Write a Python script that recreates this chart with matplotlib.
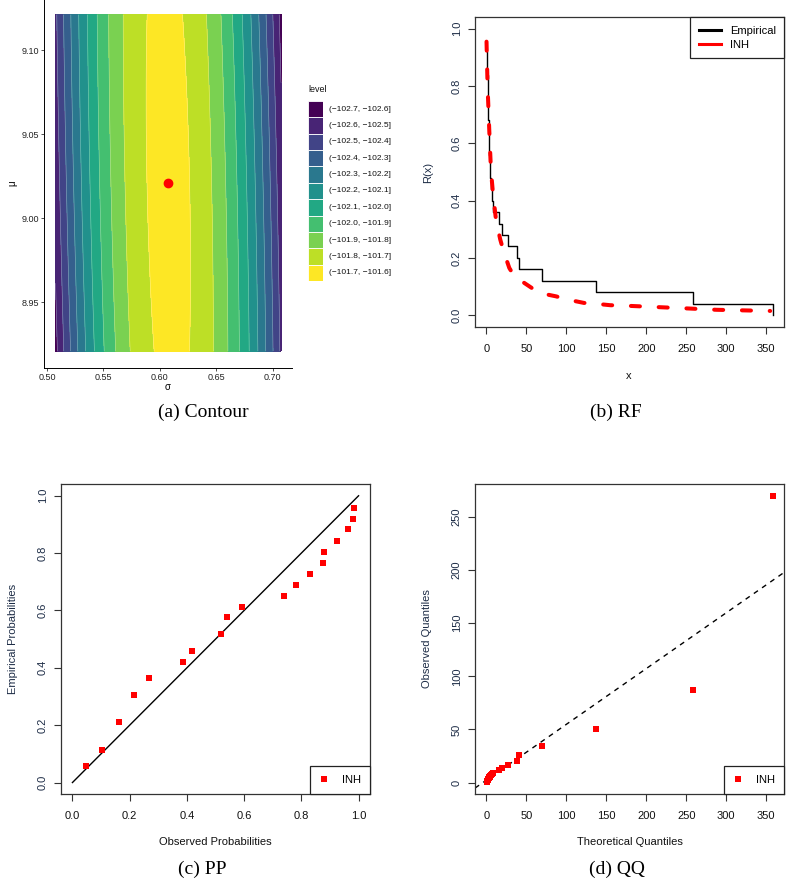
import numpy as np
import matplotlib
matplotlib.use("Agg")
import matplotlib.pyplot as plt
from matplotlib.patches import Rectangle
from matplotlib.lines import Line2D

plt.rcParams['font.family'] = ['Liberation Sans', 'DejaVu Sans']
plt.rcParams['lines.scale_dashes'] = False

# ---------------- data ----------------
# (a) contour: log-likelihood surface around the MLE
sigma_hat = 0.6075
mu_hat = 9.021
loglik_max = -101.668
sigma_curv = 0.1057
sigma_tilt = -0.031
mu_curv = 1.0
sigma_range = (0.5075, 0.7075)
mu_range = (8.921, 9.121)
level_breaks = [-102.7, -102.6, -102.5, -102.4, -102.3, -102.2, -102.1,
                -102.0, -101.9, -101.8, -101.7, -101.6]
sigma_ticks = [0.50, 0.55, 0.60, 0.65, 0.70]
mu_ticks = [8.95, 9.00, 9.05, 9.10]

# (b) reliability function
emp_x = [0.8, 1.0, 1.2, 1.5, 1.8, 2.1, 2.4, 2.7, 3.0, 3.3, 4.0, 4.8, 5.4, 7.5,
         8.7, 15.8, 20.0, 27.5, 38.7, 40.8, 69.0, 137.0, 258.0, 358.0]
emp_R = [0.92, 0.88, 0.84, 0.80, 0.76, 0.72, 0.68, 0.64, 0.60, 0.56, 0.52, 0.48,
         0.44, 0.40, 0.36, 0.32, 0.28, 0.24, 0.20, 0.16, 0.12, 0.08, 0.04, 0.00]
inh_x = [0.1, 1.4, 3.5, 5.6, 8.1, 11.9, 17.3, 21.5, 28.6, 34.9, 53.6, 66.0,
         87.0, 101.0, 122.0, 137.0, 155.0, 168.0, 201.0, 242.0, 288.0, 355.0]
inh_R = [0.955, 0.80, 0.648, 0.508, 0.427, 0.334, 0.264, 0.223, 0.165, 0.136,
         0.101, 0.078, 0.066, 0.055, 0.043, 0.040, 0.035, 0.034, 0.030, 0.025,
         0.019, 0.015]

# (c) PP plot
pp_observed = [0.049, 0.105, 0.164, 0.216, 0.269, 0.386, 0.419, 0.519, 0.541,
               0.593, 0.740, 0.781, 0.830, 0.876, 0.879, 0.924, 0.963, 0.979, 0.984]
pp_empirical = [0.056, 0.115, 0.212, 0.306, 0.365, 0.421, 0.459, 0.519, 0.576,
                0.613, 0.651, 0.690, 0.728, 0.766, 0.805, 0.843, 0.883, 0.920, 0.958]

# (d) QQ plot
qq_theoretical = [0.8, 0.8, 1.0, 1.2, 1.5, 1.8, 2.1, 2.4, 2.7, 3.0, 3.3, 4.0, 4.8,
                  5.4, 7.5, 8.7, 15.8, 20.0, 27.5, 38.7, 40.8, 69.0, 137.0, 258.0, 358.0]
qq_observed = [0.5, 0.9, 1.3, 1.7, 2.1, 2.6, 3.0, 3.4, 3.9, 4.3, 4.8, 5.6, 6.2,
               6.9, 8.5, 9.4, 11.9, 13.3, 16.5, 20.3, 26.0, 34.4, 50.1, 86.7, 269.5]
qq_line_intercept = 2.3
qq_line_slope = 0.525

# ---------------- figure ----------------
W, H = 800, 886
fig = plt.figure(figsize=(W / 100, H / 100), dpi=100)


def rect(l, t, r, b):
    return [l / W, 1 - b / H, (r - l) / W, (b - t) / H]


def fpos(x, y):
    return x / W, 1 - y / H


RED = '#FF0000'
TXT = '#111111'
VTXT = '#1d2c46'
FS = 8

# ---------- (a) contour ----------
ax = fig.add_axes(rect(44.3, -2.1, 292.3, 367.9))
sg = np.linspace(sigma_range[0], sigma_range[1], 241)
mg = np.linspace(mu_range[0], mu_range[1], 241)
S, M = np.meshgrid(sg, mg)
L = (loglik_max
     - ((S - (sigma_hat + sigma_tilt * (M - mu_hat))) / sigma_curv) ** 2
     - ((M - mu_hat) / mu_curv) ** 2)
n_lev = len(level_breaks) - 1
cols = plt.cm.viridis(np.linspace(0, 1, n_lev))
ax.contourf(S, M, L, levels=level_breaks, colors=cols)
ax.contour(S, M, L, levels=level_breaks, colors='white', linewidths=0.4,
           alpha=0.45, linestyles='solid')
ax.plot([sigma_hat], [mu_hat], 'o', color=RED, ms=6, mec=RED)
pad_s = 0.05 * (sigma_range[1] - sigma_range[0])
pad_m = 0.05 * (mu_range[1] - mu_range[0])
ax.set_xlim(sigma_range[0] - pad_s, sigma_range[1] + pad_s)
ax.set_ylim(mu_range[0] - pad_m, mu_range[1] + pad_m)
ax.set_xticks(sigma_ticks)
ax.set_xticklabels([f"{v:.2f}" for v in sigma_ticks])
ax.set_yticks(mu_ticks)
ax.set_yticklabels([f"{v:.2f}" for v in mu_ticks])
for s in ['top', 'right']:
    ax.spines[s].set_visible(False)
for s in ['left', 'bottom']:
    ax.spines[s].set_linewidth(0.7)
    ax.spines[s].set_color('black')
ax.tick_params(length=2.4, width=0.6, labelsize=6.5, pad=1, colors='#333333')
ax.tick_params(labelcolor='#222222')
fig.text(*fpos(167.7, 386.7), 'σ', ha='center', va='center', fontsize=7, color='black')
fig.text(*fpos(12.7, 183), 'μ', ha='center', va='center', fontsize=7, rotation=90, color='black')

# legend for contour
lax = fig.add_axes(rect(308.3, 101, 323.3, 281))
lax.set_xlim(0, 1)
lax.set_ylim(0, n_lev)
lax.axis('off')
for i in range(n_lev):
    yb = n_lev - 1 - i
    lax.add_patch(Rectangle((0, yb), 1, 1, facecolor=cols[i], edgecolor='white', lw=0.6))
    lo = f"{level_breaks[i]:.1f}".replace('-', '\u2212')
    hi = f"{level_breaks[i + 1]:.1f}".replace('-', '\u2212')
    lax.text(1.4, yb + 0.5, f"({lo}, {hi}]", ha='left', va='center', fontsize=6,
             color='#111111', clip_on=False)
fig.text(*fpos(308.3, 90), 'level', ha='left', va='center', fontsize=6.5, color='#111111')


def r_style(a, xt, yt, xfmt, yfmt):
    a.set_xticks(xt)
    a.set_xticklabels([xfmt(v) for v in xt])
    a.set_yticks(yt)
    a.set_yticklabels([yfmt(v) for v in yt], rotation=90, va='center')
    for s in a.spines.values():
        s.set_linewidth(0.9)
        s.set_color('#333333')
    a.tick_params(direction='out', length=5, width=0.8, labelsize=FS, colors='#333333')
    a.tick_params(axis='x', labelcolor=TXT, pad=7.5)
    a.tick_params(axis='y', labelcolor=VTXT, pad=4.5)


def r_lim(lo, hi):
    d = 0.04 * (hi - lo)
    return lo - d, hi + d


def r_legend(a, handles, labels, loc, **kw):
    lg = a.legend(handles, labels, loc=loc, fontsize=FS, borderaxespad=0,
                  fancybox=False, framealpha=1, edgecolor='#222222', **kw)
    lg.get_frame().set_linewidth(0.9)
    return lg


# ---------- (b) RF ----------
ax = fig.add_axes(rect(475, 17.3, 784, 326.7))
ax.step(emp_x, emp_R, where='post', color='black', lw=1.0)
ax.plot(inh_x, inh_R, color=RED, lw=2.9, dashes=(6.5, 13.5), dash_capstyle='round')
ax.set_xlim(*r_lim(0, 358))
ax.set_ylim(*r_lim(0, 1))
r_style(ax, [0, 50, 100, 150, 200, 250, 300, 350], [0, 0.2, 0.4, 0.6, 0.8, 1.0],
        lambda v: f"{v:d}", lambda v: f"{v:.1f}")
hl = [Line2D([], [], color='black', lw=2.2), Line2D([], [], color=RED, lw=2.2)]
r_legend(ax, hl, ['Empirical', 'INH'], 'upper right', borderpad=0.75,
         handlelength=2.0, handletextpad=0.8, labelspacing=0.4)
fig.text(*fpos(629, 375.7), 'x', ha='center', va='center', fontsize=FS, color=TXT)
fig.text(*fpos(428.3, 172), 'R(x)', ha='center', va='center', fontsize=FS, rotation=90, color=VTXT)

# ---------- (c) PP ----------
ax = fig.add_axes(rect(61, 484.3, 370, 794))
ax.plot([0, 1], [0, 1], color='black', lw=1.0)
ax.plot(pp_observed, pp_empirical, 's', color=RED, ms=4.5, mew=0)
ax.set_xlim(*r_lim(0, 1))
ax.set_ylim(*r_lim(0, 1))
ticks01 = [0, 0.2, 0.4, 0.6, 0.8, 1.0]
r_style(ax, ticks01, ticks01, lambda v: f"{v:.1f}", lambda v: f"{v:.1f}")
hm = [Line2D([], [], marker='s', color=RED, ls='none', ms=5, mew=0)]
r_legend(ax, hm, ['INH'], 'lower right', borderpad=0.8, handlelength=1.0,
         handletextpad=1.1)
fig.text(*fpos(215, 842.3), 'Observed Probabilities', ha='center', va='center', fontsize=FS, color=TXT)
fig.text(*fpos(13, 639), 'Empirical Probabilities', ha='center', va='center', fontsize=FS,
         rotation=90, color=VTXT)

# ---------- (d) QQ ----------
ax = fig.add_axes(rect(475, 484.3, 784, 794))
ax.axline((0, qq_line_intercept), slope=qq_line_slope, color='black', lw=1.0, dashes=(3.6, 3.6))
ax.plot(qq_theoretical, qq_observed, 's', color=RED, ms=4.5, mew=0)
ax.set_xlim(*r_lim(0, 358))
ax.set_ylim(*r_lim(0, 270))
r_style(ax, [0, 50, 100, 150, 200, 250, 300, 350], [0, 50, 100, 150, 200, 250],
        lambda v: f"{v:d}", lambda v: f"{v:d}")
r_legend(ax, hm, ['INH'], 'lower right', borderpad=0.8, handlelength=1.0,
         handletextpad=1.1)
fig.text(*fpos(630, 842.3), 'Theoretical Quantiles', ha='center', va='center', fontsize=FS, color=TXT)
fig.text(*fpos(427, 639), 'Observed Quantiles', ha='center', va='center', fontsize=FS,
         rotation=90, color=VTXT)

# ---------- captions ----------
cap = dict(ha='center', va='center', fontsize=14, family=['Liberation Serif', 'DejaVu Serif'], color='black')
fig.text(*fpos(203, 412), '(a) Contour', **cap)
fig.text(*fpos(616, 412), '(b) RF', **cap)
fig.text(*fpos(202, 869), '(c) PP', **cap)
fig.text(*fpos(617, 869), '(d) QQ', **cap)

fig.savefig('out.png', dpi=100)
